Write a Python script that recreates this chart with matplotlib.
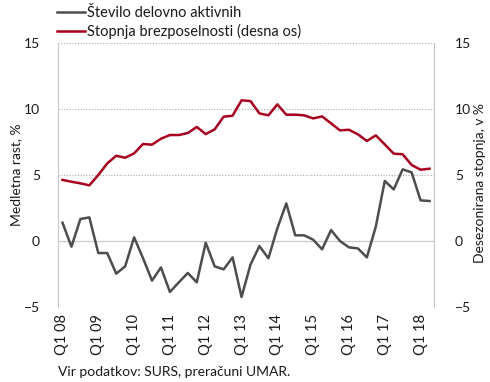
import matplotlib
matplotlib.use("Agg")
import matplotlib.pyplot as plt
import numpy as np

plt.rcParams['font.family'] = ['Lato', 'DejaVu Sans']

# kvartali Q1 08 - Q2 18
quarters = [f"Q{q} {y:02d}" for y in range(8, 19) for q in range(1, 5)][:42]

delovno_aktivni = [1.39, -0.43, 1.67, 1.79, -0.91, -0.91, -2.47, -1.92, 0.28, -1.31,
                   -3.0, -2.0, -3.86, -3.13, -2.42, -3.13, -0.13, -1.92, -2.15, -1.24,
                   -4.24, -1.79, -0.38, -1.31, 0.96, 2.85, 0.43, 0.43, 0.1, -0.63,
                   0.83, 0.0, -0.48, -0.56, -1.24, 1.09, 4.55, 3.91, 5.43, 5.2,
                   3.08, 3.03]

brezposelnost = [4.63, 4.49, 4.37, 4.22, 5.0, 5.88, 6.46, 6.31, 6.64, 7.35,
                 7.3, 7.75, 8.03, 8.03, 8.18, 8.64, 8.1, 8.46, 9.42, 9.49,
                 10.66, 10.6, 9.67, 9.52, 10.35, 9.57, 9.57, 9.52, 9.29, 9.44,
                 8.91, 8.38, 8.43, 8.08, 7.58, 8.0, 7.32, 6.62, 6.57, 5.76,
                 5.4, 5.48]

yticks = [-5, 0, 5, 10, 15]
xtick_labels = [f"Q1 {y:02d}" for y in range(8, 19)]

fig = plt.figure(figsize=(4.9, 3.82), dpi=100)
ax = fig.add_axes([0.1184, 0.1963, 0.7673, 0.6911])
ax2 = ax.twinx()

x = np.arange(len(quarters))
l1, = ax.plot(x, delovno_aktivni, color='#4d4d4d', lw=1.8, zorder=3)
l2, = ax2.plot(x, brezposelnost, color='#a6001e', lw=1.8, zorder=3)

for a in (ax, ax2):
    a.set_ylim(-5, 15)
    a.set_yticks(yticks)
    a.set_xlim(-0.5, len(quarters) - 0.5)
    a.tick_params(length=0, labelsize=10, colors='#1a1a1a')
    for s in a.spines.values():
        s.set_visible(False)

ax.tick_params(axis='y', pad=13)
ax2.tick_params(axis='y', pad=15)
ax.spines['left'].set_visible(True)
ax.spines['right'].set_visible(True)
ax.spines['left'].set_color('#c8c8c8')
ax.spines['right'].set_color('#c8c8c8')

for v in [5, 10, 15, -5]:
    ax.axhline(v, color='#aaaaaa', lw=0.8, ls=(0, (1, 1.5)), zorder=1)
ax.axhline(0, color='#c8c8c8', lw=0.9, zorder=1)

ax.set_xticks(x[::4])
ax.set_xticklabels(xtick_labels, rotation=90, fontsize=10.5)
ax.tick_params(axis='x', pad=5)

ax.set_ylabel('Medletna rast, %', fontsize=10, color='#1a1a1a', va='center')
ax.yaxis.set_label_coords(-0.112, 0.5)
ax2.set_ylabel('Desezonirana stopnja, v %', fontsize=10, rotation=90,
               color='#1a1a1a', va='center')
ax2.yaxis.set_label_coords(1.122, 0.47)

fig.legend([l1, l2], ['Število delovno aktivnih', 'Stopnja brezposelnosti (desna os)'],
           loc='upper left', bbox_to_anchor=(0.116, 0.985), frameon=False,
           fontsize=10.5, handlelength=1.9, handletextpad=0.15, labelspacing=0.3,
           borderaxespad=0, borderpad=0, labelcolor='#1a1a1a')

fig.text(0.118, 0.015, 'Vir podatkov: SURS, preračuni UMAR.', fontsize=10, color='#1a1a1a')

fig.savefig('out.png', dpi=100)
